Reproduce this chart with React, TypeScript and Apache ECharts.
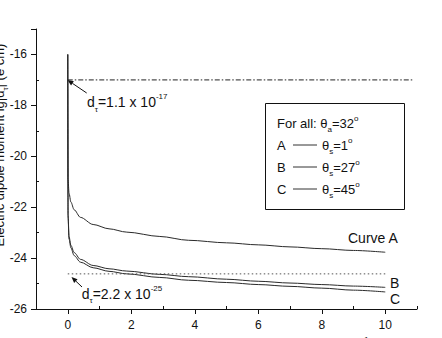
import React, { useEffect, useRef } from "react";
import * as echarts from "echarts";

// ---- data ----
const xs = [0, 0.01, 0.04, 0.1, 0.2, 0.4, 0.8, 1.3, 1.86, 2.9, 3.8, 5, 6, 7, 8, 9, 10];
const curveA = [-16, -20.9, -21.45, -21.8, -22.1, -22.4, -22.68, -22.85, -22.98, -23.15, -23.3, -23.4, -23.48, -23.56, -23.63, -23.7, -23.77];
const curveB = [-16, -22.3, -23.15, -23.5, -23.78, -24.05, -24.29, -24.42, -24.51, -24.64, -24.73, -24.83, -24.91, -24.98, -25.04, -25.1, -25.15];
const curveC = [-16, -22.4, -23.25, -23.6, -23.9, -24.16, -24.38, -24.52, -24.62, -24.76, -24.87, -24.96, -25.04, -25.11, -25.18, -25.26, -25.33];
const upperLimitX = [0, 10.9];
const upperLimitY = -17;
const lowerLimitX = [0, 10];
const lowerLimitY = -24.62;
const xMajorTicks = [0, 2, 4, 6, 8, 10];
const xMinorTicks = [1, 3, 5, 7, 9, 11];
const yMajorTicks = [-26, -24, -22, -20, -18, -16, -15];
const yLabels = [-26, -24, -22, -20, -18, -16];
const yMinorTicks = [-25, -23, -21, -19, -17];

const FONT = '"Liberation Sans", Arial, sans-serif';
const INK = "#111";

let measureCtx: CanvasRenderingContext2D | null = null;
function textWidth(t: string, size: number) {
  if (!measureCtx) measureCtx = document.createElement("canvas").getContext("2d");
  if (!measureCtx) return t.length * size * 0.55;
  measureCtx.font = `${size}px "Liberation Sans"`;
  return measureCtx.measureText(t).width;
}

// parts: [text, fontSize, dy]
function pieces(x: number, cy: number, parts: [string, number, number][], anchor: "left" | "center" = "left") {
  const total = parts.reduce((s, p) => s + textWidth(p[0], p[1]), 0);
  let cx = anchor === "center" ? x - total / 2 : x;
  const els: any[] = [];
  for (const [t, size, dy] of parts) {
    els.push({
      type: "text",
      x: cx,
      y: cy + dy,
      silent: true,
      z: 20,
      style: {
        text: t,
        fontSize: size,
        fontFamily: FONT,
        fill: INK,
        align: "left",
        textAlign: "left",
        verticalAlign: "middle",
        textVerticalAlign: "middle",
      },
    });
    cx += textWidth(t, size);
  }
  return els;
}

function arrow(tailX: number, tailY: number, headX: number, headY: number) {
  const dx = headX - tailX;
  const dy = headY - tailY;
  const len = Math.hypot(dx, dy);
  const ux = dx / len;
  const uy = dy / len;
  const bx = headX - ux * 6;
  const by = headY - uy * 6;
  return [
    { type: "line", silent: true, shape: { x1: tailX, y1: tailY, x2: bx, y2: by }, style: { stroke: INK, lineWidth: 1 } },
    {
      type: "polygon",
      silent: true,
      shape: { points: [[headX, headY], [bx - uy * 2.5, by + ux * 2.5], [bx + uy * 2.5, by - ux * 2.5]] },
      style: { fill: INK },
    },
  ];
}

function legendRow(y: number, letter: string, angle: string) {
  return [
    ...pieces(277, y, [[letter, 13, 0]]),
    { type: "line", silent: true, z: 20, shape: { x1: 293, y1: y, x2: 317, y2: y }, style: { stroke: "#333", lineWidth: 1 } },
    ...pieces(322, y, [["θ", 13, 0], ["s", 8, 6], ["=" + angle, 13, 0], ["o", 8, -5]]),
  ];
}

export default function App() {
  const ref = useRef<HTMLDivElement>(null);
  useEffect(() => {
    document.body.style.margin = "0";
    if (!ref.current) return;
    const chart = echarts.init(ref.current, null, { renderer: "svg" });
    const toPairs = (ys: number[]) => xs.map((x, i) => [x, ys[i]]);
    const curveStyle = { color: "#2a2a2a", width: 1 };
    const curve = (name: string, ys: number[]) => ({
      name,
      type: "line",
      data: toPairs(ys),
      showSymbol: false,
      symbol: "none",
      smooth: 0.3,
      smoothMonotone: "x",
      lineStyle: curveStyle,
      silent: true,
      z: 3,
    });

    const yTitle = {
      type: "group",
      x: -0.5,
      y: 145,
      rotation: Math.PI / 2,
      children: pieces(0, 0, [
        ["Electric dipole moment lg|d", 13, 0],
        ["τ", 8, 6],
        ["| (e cm)", 13, 0],
      ], "center"),
    };

    const option: any = {
      animation: false,
      backgroundColor: "#fff",
      grid: { left: 36, top: 29, width: 381, height: 280, containLabel: false },
      xAxis: [
        {
          type: "value",
          min: -1,
          max: 11,
          position: "bottom",
          axisLine: { show: true, onZero: false, lineStyle: { color: INK, width: 1 } },
          axisTick: { show: true, inside: false, length: 5, customValues: xMajorTicks, lineStyle: { color: INK } },
          axisLabel: { show: true, customValues: xMajorTicks, fontSize: 12, color: INK, fontFamily: FONT, margin: 10 },
          splitLine: { show: false },
        },
        {
          type: "value",
          min: -1,
          max: 11,
          position: "bottom",
          axisLine: { show: false, onZero: false },
          axisTick: { show: true, inside: true, length: 3, customValues: xMinorTicks, lineStyle: { color: INK } },
          axisLabel: { show: false },
          splitLine: { show: false },
        },
      ],
      yAxis: [
        {
          type: "value",
          min: -26,
          max: -15,
          position: "left",
          axisLine: { show: true, onZero: false, lineStyle: { color: INK, width: 1 } },
          axisTick: { show: true, inside: false, length: 5, customValues: yMajorTicks, lineStyle: { color: INK } },
          axisLabel: { show: true, customValues: yLabels, fontSize: 12, color: INK, fontFamily: FONT, margin: 9 },
          splitLine: { show: false },
        },
        {
          type: "value",
          min: -26,
          max: -15,
          position: "left",
          axisLine: { show: false, onZero: false },
          axisTick: { show: true, inside: true, length: 3, customValues: yMinorTicks, lineStyle: { color: INK } },
          axisLabel: { show: false },
          splitLine: { show: false },
        },
      ],
      series: [
        curve("A", curveA),
        curve("B", curveB),
        curve("C", curveC),
        {
          name: "upper",
          type: "line",
          data: upperLimitX.map((x) => [x, upperLimitY]),
          showSymbol: false,
          symbol: "none",
          silent: true,
          lineStyle: { color: "#222", width: 1, type: [5, 2, 1.5, 2] },
        },
        {
          name: "lower",
          type: "line",
          data: lowerLimitX.map((x) => [x, lowerLimitY]),
          showSymbol: false,
          symbol: "none",
          silent: true,
          lineStyle: { color: "#555", width: 1, type: [1.5, 2.5] },
        },
      ],
      graphic: [
        yTitle,
        ...pieces(252, 344, [["Integrated luminosity of the collider L (fb", 13, 0], ["-1", 8, -5], [")", 13, 0]], "center"),
        // annotations
        ...arrow(86.7, 93, 67.5, 80),
        ...pieces(87, 102, [["d", 14, 0], ["τ", 8, 7], ["=1.1 x 10", 14, 0], ["-17", 8, -5.5]]),
        ...arrow(82, 287, 71.5, 277),
        ...pieces(81.7, 293.5, [["d", 14, 0], ["τ", 8, 7], ["=2.2 x 10", 14, 0], ["-25", 8, -5.5]]),
        ...pieces(348, 237.5, [["Curve A", 14, 0]]),
        ...pieces(390, 283, [["B", 14, 0]]),
        ...pieces(390, 299, [["C", 14, 0]]),
        // legend box
        {
          type: "rect",
          silent: true,
          z: 5,
          shape: { x: 265.5, y: 103.5, width: 139, height: 106 },
          style: { fill: "none", stroke: INK, lineWidth: 1 },
        },
        ...pieces(277, 123, [["For all: θ", 13, 0], ["a", 8, 6], ["=32", 13, 0], ["o", 8, -5]]),
        ...legendRow(145, "A", "1"),
        ...legendRow(167, "B", "27"),
        ...legendRow(189, "C", "45"),
      ],
    };
    chart.setOption(option);
    return () => chart.dispose();
  }, []);
  return <div ref={ref} style={{ width: 442, height: 338 }} />;
}
